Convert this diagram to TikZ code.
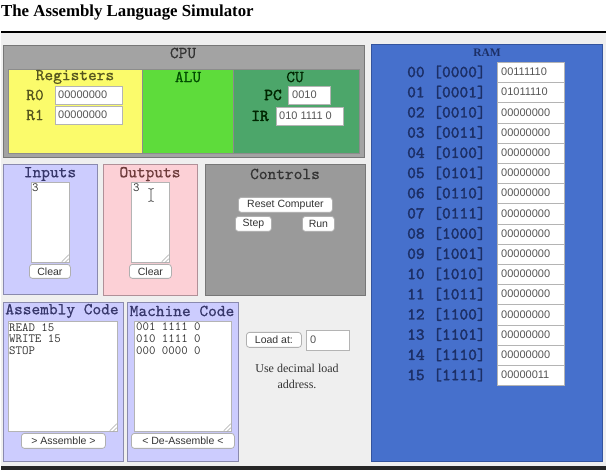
\documentclass[tikz,border=0pt]{standalone}
\usepackage{fontspec}
\setmainfont{Liberation Serif}
\setsansfont{Liberation Sans}
\newfontfamily\hdrface{lmmono10-regular.otf}[FakeBold=0.7]
\newfontfamily\ramface{lmmono10-regular.otf}[FakeBold=2.2]
\definecolor{pagebg}{HTML}{EFEFEF}
\definecolor{cpugray}{HTML}{A3A3A3}
\definecolor{cpuedge}{HTML}{777777}
\definecolor{regyellow}{HTML}{FBFB6B}
\definecolor{alugreen}{HTML}{5EDC3B}
\definecolor{cugreen}{HTML}{4CA66A}
\definecolor{lavender}{HTML}{CCCCFE}
\definecolor{lavedge}{HTML}{8A8AAE}
\definecolor{pinkbox}{HTML}{FCD0D6}
\definecolor{pinkedge}{HTML}{B09098}
\definecolor{ctrlgray}{HTML}{9A9A9A}
\definecolor{ramblue}{HTML}{4670CC}
\definecolor{ramedge}{HTML}{34549E}
\definecolor{navy}{HTML}{1C2F66}
\definecolor{fieldedge}{HTML}{B4B4B4}
\definecolor{btnedge}{HTML}{B0B0B0}
\definecolor{darktext}{HTML}{333333}
\definecolor{valtext}{HTML}{555555}
\definecolor{olivetext}{HTML}{55551E}
\definecolor{redtext}{HTML}{6E3C3C}
\definecolor{bluetext}{HTML}{36366A}
\newcommand\hdrfont{\fontsize{16.6}{18}\selectfont\hdrface}
\newcommand\ramfont{\fontsize{16.6}{18}\selectfont\ramface}
\newcommand\valfont{\fontsize{11}{12}\selectfont\sffamily}
\newcommand\btnfont{\fontsize{10.5}{12}\selectfont\sffamily}
\newcommand\codefont{\fontsize{12.5}{11.7}\selectfont\ttfamily}
\tikzset{
  panel/.style={anchor=north west, inner sep=0pt, line width=1pt},
  field/.style={anchor=north west, inner sep=0pt, fill=white, draw=fieldedge, line width=0.8pt},
  btn/.style={anchor=north west, inner sep=0pt, rounded corners=3pt, fill=white, draw=btnedge, line width=0.8pt},
  btntext/.style={inner sep=0pt, font=\btnfont, text=darktext},
  hdr/.style={inner sep=0pt, font=\hdrfont},
  val/.style={inner sep=0pt, anchor=west, font=\valfont, text=valtext},
  code/.style={inner sep=0pt, anchor=north west, font=\codefont, text=darktext, align=left},
  grip/.style={draw=gray!70, line width=0.5pt}
}
\begin{document}
\begin{tikzpicture}[x=1pt,y=-1pt]
\useasboundingbox (0,0) rectangle (606,470);
% page
\node[panel, fill=white, minimum width=606pt, minimum height=32pt] (titlebg) at (0,0) {};
\node[panel, fill=pagebg, minimum width=606pt, minimum height=433pt] (pagebgbox) at (0,33) {};
\node[panel, fill=black, minimum width=606pt, minimum height=2pt] (topline) at (0,31) {};
\node[panel, fill=black!85, minimum width=606pt, minimum height=4pt] (bottomline) at (0,466) {};
\node[anchor=west, inner sep=0pt, font=\fontsize{16.8}{18}\selectfont\bfseries] (title) at (1,13) {The Assembly Language Simulator};

% CPU
\node[panel, fill=cpugray, draw=cpuedge, minimum width=361pt, minimum height=112pt] (cpu) at (3,45) {};
\node[hdr, text=darktext] (cpulbl) at (183,53) {CPU};
\node[panel, fill=regyellow, draw=black!45, line width=0.8pt, minimum width=134pt, minimum height=84pt] (regs) at (8,69) {};
\node[panel, fill=alugreen, draw=black!45, line width=0.8pt, minimum width=91pt, minimum height=84pt] (alu) at (142,69) {};
\node[panel, fill=cugreen, draw=black!45, line width=0.8pt, minimum width=126pt, minimum height=84pt] (cu) at (233,69) {};
\node[hdr, text=olivetext] (regslbl) at (75,77) {Registers};
\node[hdr, text=black!70!green] (alulbl) at (188,77) {ALU};
\node[hdr, text=black!85!green] (culbl) at (295,77) {CU};
\node[hdr, text=olivetext] (r0lbl) at (35,95) {R0};
\node[hdr, text=olivetext] (r1lbl) at (35,115) {R1};
\node[field, minimum width=67pt, minimum height=18pt] (r0box) at (55,86) {};
\node[field, minimum width=67pt, minimum height=18pt] (r1box) at (55,106) {};
\node[val] (r0val) at (58,95) {00000000};
\node[val] (r1val) at (58,115) {00000000};
\node[inner sep=0pt, font=\ramfont, text=black!85!green] (pclbl) at (273,95) {PC};
\node[inner sep=0pt, font=\ramfont, text=black!85!green] (irlbl) at (260,116) {IR};
\node[field, minimum width=42pt, minimum height=18pt] (pcbox) at (288,86) {};
\node[field, minimum width=67pt, minimum height=18pt] (irbox) at (276,107) {};
\node[val] (pcval) at (292,95) {0010};
\node[val] (irval) at (279,116) {010 1111 0};

% Inputs
\node[panel, fill=lavender, draw=lavedge, minimum width=94pt, minimum height=130pt] (inputs) at (3,164) {};
\node[hdr, text=bluetext] (inlbl) at (50,174) {Inputs};
\node[field, minimum width=38pt, minimum height=80pt] (inarea) at (31,182) {};
\node[code] (intext) at (32,184) {3};
\draw[grip] (inarea.south east) ++(-8,-1) -- ++(7,-7) ++(-4,8) -- ++(4,-4);
\node[btn, minimum width=41pt, minimum height=14pt] (inclear) at (29,264) {};
\node[btntext] (inclearlbl) at (inclear.center) {Clear};

% Outputs
\node[panel, fill=pinkbox, draw=pinkedge, minimum width=94pt, minimum height=131pt] (outputs) at (103,164) {};
\node[hdr, text=redtext] (outlbl) at (150,174) {Outputs};
\node[field, minimum width=38pt, minimum height=80pt] (outarea) at (131,182) {};
\node[code] (outtext) at (133,184) {3};
\draw[grip] (outarea.south east) ++(-8,-1) -- ++(7,-7) ++(-4,8) -- ++(4,-4);
\coordinate (cursor) at (151,195);
\draw[darktext, line width=0.7pt] ([yshift=-6]cursor) -- ([yshift=6]cursor)
  ([xshift=-2.5,yshift=-6.5]cursor) -- ([xshift=-0.5,yshift=-6]cursor) -- ([xshift=0.5,yshift=-6]cursor) -- ([xshift=2.5,yshift=-6.5]cursor)
  ([xshift=-2.5,yshift=6.5]cursor) -- ([xshift=-0.5,yshift=6]cursor) -- ([xshift=0.5,yshift=6]cursor) -- ([xshift=2.5,yshift=6.5]cursor);
\node[btn, minimum width=42pt, minimum height=14pt] (outclear) at (129,264) {};
\node[btntext] (outclearlbl) at (outclear.center) {Clear};

% Controls
\node[panel, fill=ctrlgray, draw=cpuedge, minimum width=160pt, minimum height=131pt] (controls) at (205,164) {};
\node[hdr, text=darktext] (ctrllbl) at (285,174) {Controls};
\node[btn, minimum width=94pt, minimum height=15pt] (reset) at (238,197) {};
\node[btntext] (resetlbl) at (reset.center) {Reset Computer};
\node[btn, minimum width=36pt, minimum height=15pt] (step) at (235,216) {};
\node[btntext] (steplbl) at (step.center) {Step};
\node[btn, minimum width=32pt, minimum height=15pt] (run) at (302,216) {};
\node[btntext] (runlbl) at (run.center) {Run};

% Assembly code
\node[panel, fill=lavender, draw=lavedge, minimum width=120pt, minimum height=159pt] (asm) at (3,302) {};
\node[hdr, text=bluetext] (asmlbl) at (62,311) {Assembly Code};
\node[field, minimum width=109pt, minimum height=110pt] (asmarea) at (8,321) {};
\node[code] (asmtext) at (9,323) {READ 15\\WRITE 15\\STOP};
\draw[grip] (asmarea.south east) ++(-8,-1) -- ++(7,-7) ++(-4,8) -- ++(4,-4);
\node[btn, minimum width=84pt, minimum height=15pt] (assemble) at (21,433) {};
\node[btntext] (assemblelbl) at (assemble.center) {> Assemble >};

% Machine code
\node[panel, fill=lavender, draw=lavedge, minimum width=111pt, minimum height=159pt] (mach) at (127,302) {};
\node[hdr, text=bluetext] (machlbl) at (182,311) {Machine Code};
\node[field, minimum width=97pt, minimum height=110pt] (macharea) at (134,321) {};
\node[code] (machtext) at (136,323) {001 1111 0\\010 1111 0\\000 0000 0};
\draw[grip] (macharea.south east) ++(-8,-1) -- ++(7,-7) ++(-4,8) -- ++(4,-4);
\node[btn, minimum width=103pt, minimum height=15pt] (disasm) at (131,433) {};
\node[btntext] (disasmlbl) at (disasm.center) {< De-Assemble <};

% Load at
\node[btn, minimum width=55pt, minimum height=15pt] (loadat) at (246,332) {};
\node[btntext] (loadatlbl) at (loadat.center) {Load at:};
\node[field, minimum width=43pt, minimum height=20pt] (loadbox) at (306,330) {};
\node[val] (loadval) at (310,340) {0};
\node[inner sep=0pt, align=center, font=\fontsize{12}{16}\selectfont, text=darktext] (loadnote) at (297,376) {Use decimal load\\address.};

% RAM
\node[panel, fill=ramblue, draw=ramedge, minimum width=231pt, minimum height=417pt] (ram) at (371,44) {};
\node[inner sep=0pt, font=\fontsize{11.5}{12}\selectfont\bfseries, text=navy] (ramlbl) at (487,53) {RAM};
\foreach \i/\a/\b/\v in {0/00/0000/00111110, 1/01/0001/01011110, 2/02/0010/00000000, 3/03/0011/00000000,
  4/04/0100/00000000, 5/05/0101/00000000, 6/06/0110/00000000, 7/07/0111/00000000,
  8/08/1000/00000000, 9/09/1001/00000000, 10/10/1010/00000000, 11/11/1011/00000000,
  12/12/1100/00000000, 13/13/1101/00000000, 14/14/1110/00000000, 15/15/1111/00000011} {
  \node[inner sep=0pt, anchor=west, font=\ramfont, text=navy] (addr\i) at (407,{72+20.2*\i}) {\a\ [\b]};
  \node[field, minimum width=67pt, minimum height=20.2pt] (cell\i) at (497,{62+20.2*\i}) {};
  \node[val] (val\i) at (501,{72+20.2*\i}) {\v};
}
\end{tikzpicture}
\end{document}
